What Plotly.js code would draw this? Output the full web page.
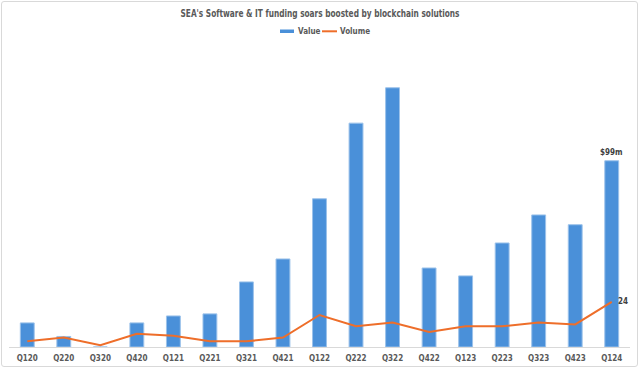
<!DOCTYPE html>
<html><head><meta charset="utf-8">
<script src="https://cdn.plot.ly/plotly-3.0.1.min.js"></script>
<style>
html,body{margin:0;padding:0;background:#fff;}
#frame{position:absolute;left:1px;top:1px;width:637px;height:366px;border:1px solid #d9d9d9;border-radius:3px;box-sizing:border-box;}
#chart{position:absolute;left:0;top:0;width:640px;height:369px;}
</style></head>
<body>
<div id="frame"></div>
<div id="chart"></div>
<script>
const quarters = ["Q120","Q220","Q320","Q420","Q121","Q221","Q321","Q421","Q122","Q222","Q322","Q422","Q123","Q223","Q323","Q423","Q124"];
const valueM = [12.8, 5.6, 0, 12.8, 16.5, 17.6, 34.6, 46.8, 78.8, 119, 137.8, 42, 37.8, 55.3, 70.2, 65, 99];
const volume = [3, 5, 1, 7, 6, 3, 3, 5, 17, 11, 13, 8, 11, 11, 13, 12, 24];
const seriesNames = ["Value", "Volume"];
const FONT = '"DejaVu Sans Condensed", "Liberation Sans", sans-serif';
const last = quarters.length - 1;
const BLUE = '#4a90d9', ORANGE = '#ee6e2a';

// plot area in px: x 9..630, y 46..347
const px = v => (v - 9) / 621;
const py = v => (347 - v) / 301;

const data = [
  {type:'bar', name:seriesNames[0], x:quarters, y:valueM,
   marker:{color:BLUE, line:{color:'#9cc2ea', width:1}}, hoverinfo:'none'},
  {type:'scatter', mode:'lines', name:seriesNames[1], x:quarters, y:volume,
   line:{color:ORANGE, width:2}, hoverinfo:'none'}
];
const layout = {
  width:640, height:369,
  margin:{l:9, r:10, t:46, b:22},
  paper_bgcolor:'rgba(0,0,0,0)', plot_bgcolor:'rgba(0,0,0,0)',
  font:{family:FONT, color:'#595959'},
  title:{text:"SEA's Software & IT funding soars boosted by blockchain solutions",
         x:0.5, xanchor:'center', y:0.965, yanchor:'middle', font:{size:11, weight:'bold', color:'#595959', family:FONT}},
  bargap:0.62,
  showlegend:false,
  xaxis:{type:'category', showgrid:false, showline:true, linecolor:'#d9d9d9', linewidth:1,
         ticks:'', ticklabelstandoff:3, tickfont:{size:8, weight:'bold', color:'#595959', family:FONT}, fixedrange:true},
  yaxis:{range:[0,160], visible:false, showgrid:false, zeroline:false, fixedrange:true},
  shapes:[
    {type:'rect', xref:'paper', yref:'paper', x0:px(280), x1:px(294), y0:py(33), y1:py(29.5),
     fillcolor:BLUE, line:{width:0}},
    {type:'line', xref:'paper', yref:'paper', x0:px(322), x1:px(337), y0:py(31.3), y1:py(31.3),
     line:{color:ORANGE, width:2}}
  ],
  annotations:[
    {x:px(296), y:py(31.3), xref:'paper', yref:'paper', text:seriesNames[0], showarrow:false,
     xanchor:'left', yanchor:'middle', font:{size:8, weight:'bold', color:'#595959', family:FONT}},
    {x:px(338), y:py(31.3), xref:'paper', yref:'paper', text:seriesNames[1], showarrow:false,
     xanchor:'left', yanchor:'middle', font:{size:8, weight:'bold', color:'#595959', family:FONT}},
    {x:quarters[last], y:valueM[last], xref:'x', yref:'y', text:'$' + valueM[last] + 'm', showarrow:false,
     yanchor:'bottom', yshift:2, font:{size:8, weight:'bold', color:'#404040', family:FONT}},
    {x:quarters[last], y:volume[last], xref:'x', yref:'y', text:String(volume[last]), showarrow:false,
     xanchor:'left', xshift:4, font:{size:8, weight:'bold', color:'#404040', family:FONT}}
  ]
};
Plotly.newPlot('chart', data, layout, {displayModeBar:false, staticPlot:true}).then(gd => {
  const t = gd.querySelector('.gtitle');
  if (t) { t.setAttribute('textLength', '279'); t.setAttribute('lengthAdjust', 'spacingAndGlyphs'); }
});
</script>
</body></html>
